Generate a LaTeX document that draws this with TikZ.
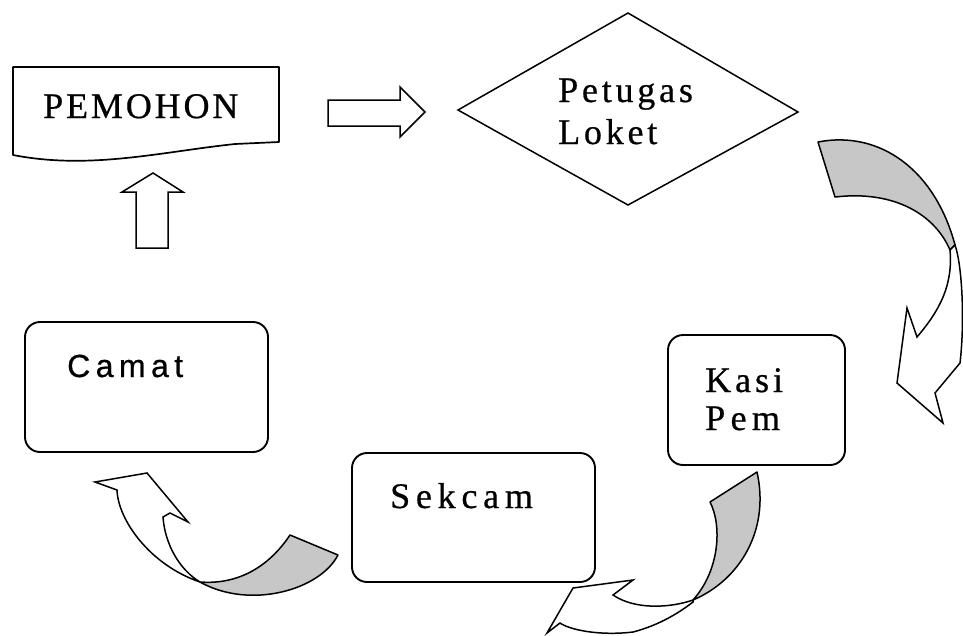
\documentclass[tikz,border=0pt]{standalone}
\usepackage{fontspec}
\setmainfont{Liberation Serif}[FakeBold=0.6]
\newfontfamily\sansf{Liberation Sans}[FakeBold=0.6]
\begin{document}
\begin{tikzpicture}[x=1pt,y=-1pt,
  outl/.style={draw=black,line width=1.7pt,line join=round},
  boxst/.style={draw=black,line width=1.9pt,rounded corners=15pt,fill=white},
  shp/.style={draw=black,line width=1.5pt,line join=miter,fill=white},
  back/.style={draw=black,line width=1.5pt,line join=round,fill=black!22},
  txt/.style={anchor=base west,inner sep=0pt,font=\fontsize{36}{42}\selectfont}]
\useasboundingbox (0,0) rectangle (963,635);

% PEMOHON document
\draw[outl,fill=white] (13,67) -- (279,67) -- (279,142) -- (235,144)
  .. controls (160,152) and (90,170) .. (13,155) -- cycle;
\node[txt] (pemohon) at (43,118) {\addfontfeatures{LetterSpace=8}PEMOHON};

% block arrows
\draw[shp] (328,100) -- (400,100) -- (400,87) -- (425,112) -- (400,137) -- (400,126) -- (328,126) -- cycle;
\draw[shp] (136,248) -- (136,192) -- (122,192) -- (153,173) -- (183,192) -- (168,192) -- (168,248) -- cycle;

% diamond
\draw[outl,line width=1.5pt,line join=miter] (458,110) -- (628,13) -- (798,112) -- (628,205) -- cycle;
\node[txt] (petugas) at (558,102) {\addfontfeatures{LetterSpace=10.5}Petugas};
\node[txt] (loket) at (558,144) {\addfontfeatures{LetterSpace=10.5}Loket};

% boxes
\node[boxst,minimum width=243pt,minimum height=130pt,inner sep=0pt] (camat) at (146.5,387) {};
\node[txt,font=\sansf\fontsize{32}{38}\selectfont] (camattxt) at (67,377) {\addfontfeatures{LetterSpace=17}Camat};
\node[boxst,minimum width=243pt,minimum height=129pt,inner sep=0pt] (sekcam) at (473.5,517.5) {};
\node[txt] (sekcamtxt) at (390,508) {\addfontfeatures{LetterSpace=16}Sekcam};
\node[boxst,minimum width=177pt,minimum height=130pt,inner sep=0pt] (kasi) at (756.5,400) {};
\node[txt] (kasitxt) at (705,392) {\addfontfeatures{LetterSpace=11}Kasi};
\node[txt] (pemtxt) at (705,430) {\addfontfeatures{LetterSpace=15}Pem};

% curved arrow A (Petugas Loket -> Kasi Pem)
\draw[back] (818,142) .. controls (880,130) and (935,170) .. (955,245) -- (950,250)
  .. controls (935,215) and (895,190) .. (835,197) -- cycle;
\draw[shp] (950,250) -- (955,245) .. controls (962,265) and (965,320) .. (960,363)
  -- (935,393) -- (943,423) -- (897,383) -- (907,308) -- (917,337)
  .. controls (940,310) and (953,285) .. (950,250) -- cycle;

% curved arrow B (Kasi Pem -> Sekcam)
\draw[back] (757,472) -- (710,502) .. controls (722,525) and (720,570) .. (693,600)
  .. controls (740,580) and (770,530) .. (757,472) -- cycle;
\draw[shp] (693,600) .. controls (670,608) and (635,610) .. (613,595) -- (633,580)
  -- (573,588) -- (547,633) -- (560,623) .. controls (570,630) and (600,636) .. (633,632)
  .. controls (660,625) and (680,612) .. (693,602) -- cycle;

% curved arrow C (Sekcam -> Camat)
\draw[back] (290,535) -- (338,555) .. controls (320,590) and (250,610) .. (200,582)
  .. controls (240,585) and (270,565) .. (290,535) -- cycle;
\draw[shp] (200,582) .. controls (150,565) and (118,520) .. (117,490) -- (95,482)
  -- (147,473) -- (188,522) -- (170,513) -- (163,517)
  .. controls (165,545) and (180,570) .. (200,582) -- cycle;
\end{tikzpicture}
\end{document}
